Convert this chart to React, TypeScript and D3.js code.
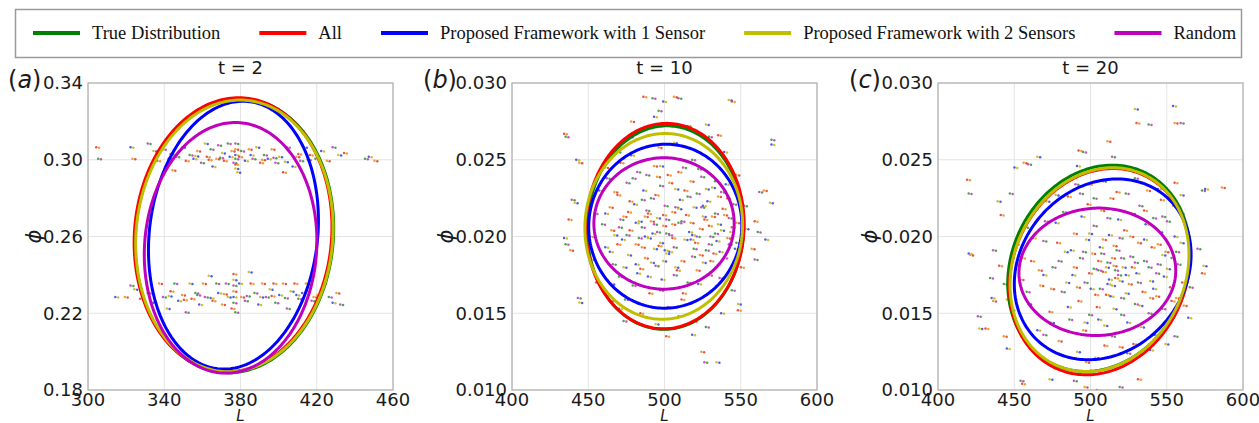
import React, { useEffect, useRef } from 'react';
import * as d3 from 'd3';

const seriesNames = [
  'True Distribution',
  'All',
  'Proposed Framework with 1 Sensor',
  'Proposed Framework with 2 Sensors',
  'Random',
];
const seriesColors = ['#008000', '#ff0000', '#0000ff', '#bfbf00', '#bf00bf'];
const dotColors = ['#e8432a', '#3a9a3a', '#3a4fe0', '#e8962a', '#c040c0', '#c8b820'];

const panelTags = ['a', 'b', 'c'];
const panelTitles = ['t = 2', 't = 10', 't = 20'];
const xDomainA = [300, 460];
const yDomainA = [0.18, 0.34];
const xDomainBC = [400, 600];
const yDomainBC = [0.01, 0.03];
const xTicksA = [300, 340, 380, 420, 460];
const yTicksA = [0.18, 0.22, 0.26, 0.3, 0.34];
const xTicksBC = [400, 450, 500, 550, 600];
const yTicksBC = [0.01, 0.015, 0.02, 0.025, 0.03];

// ellipse fits, one per series: [centre L, centre phi, radius L, radius phi, skew L, skew phi]
const ellipsesT2 = [
  [376.8, 0.2604, 52.0, 0.0714, 3, 0],
  [376.1, 0.2609, 51.8, 0.0714, 3, 0],
  [376.3, 0.2607, 44.3, 0.0698, 5, 0],
  [376.8, 0.2603, 51.7, 0.0708, 3, 0],
  [374.8, 0.2541, 45.2, 0.0653, 2.5, 0],
];
const ellipsesT10 = [
  [500.6, 0.02058, 51.3, 0.00663, 1, 0],
  [500.4, 0.02068, 51.8, 0.00669, 1, 0],
  [500.5, 0.02067, 50.2, 0.00534, 0.5, 0],
  [499.5, 0.02066, 51.7, 0.00605, 1, 0],
  [499.7, 0.02085, 46.0, 0.00428, 0, 0],
];
const ellipsesT20 = [
  [505.5, 0.01793, 59.6, 0.0067, 4.4, 0.0005],
  [506.0, 0.01771, 59.0, 0.0067, 4.4, 0.0005],
  [508.0, 0.01786, 57.6, 0.00588, 6.5, 0.0003],
  [505.9, 0.01784, 58.5, 0.00662, 4.4, 0.0005],
  [504.5, 0.0177, 51.4, 0.00415, 1, 0],
];

// particle samples, "L phi*1000"
const samplesT2 = `305 306.5,306 300.5,323 306.5,324 300.5,332 308.5,335 304.5,337 299.5,340 305.5,343 300.5,345 294.5,
347 301.5,350 306.5,352 299.5,354 302.5,356 300.5,358 304.5,360 298.5,362 308.5,363 301.5,365 305.5,366 296.5,368 300.5,
369 307.5,371 303.5,372 299.5,374 308.5,375 301.5,376 304.5,377 298.5,378 295.5,378 297.5,378 300.5,378 302.5,378 305.5,
378 308.5,379 293.5,380 301.5,381 304.5,383 299.5,385 305.5,387 300.5,389 306.5,391 298.5,393 302.5,395 300.5,397 305.5,
399 298.5,401 301.5,403 293.5,405 306.5,408 296.5,410 301.5,412 299.5,414 306.5,417 302.5,420 300.5,423 304.5,426 299.5,
429 306.5,432 302.5,435 303.5,446 300.5,448 301.5,451 299.5,344 303.0,357 302.0,364 300.0,370 301.0,386 302.5,392 300.0,
398 301.0,404 299.0,411 303.0,416 300.0,
315 228.5,320 228.5,323 234.5,325 232.5,328 227.5,332 230.5,335 225.5,338 235.5,340 228.5,342 222.5,344 231.5,346 235.5,
348 226.5,350 229.5,352 220.5,354 235.5,355 227.5,357 230.5,359 224.5,361 235.5,362 228.5,364 239.5,366 226.5,368 235.5,
369 230.5,371 224.5,373 235.5,374 228.5,376 222.5,377 225.5,377 228.5,377 231.5,377 234.5,377 237.5,377 240.5,378 220.5,
380 235.5,381 228.5,383 226.5,385 241.5,386 235.5,388 230.5,390 224.5,392 235.5,394 228.5,396 232.5,398 235.5,399 225.5,
401 229.5,403 235.5,405 222.5,407 231.5,409 235.5,411 227.5,413 230.5,415 235.5,418 226.5,421 229.5,424 235.5,427 228.5,
429 225.5,431 230.5,433 224.5,343 229.0,351 227.0,358 229.5,365 228.0,372 230.0,384 229.0,391 228.5,397 229.0,404 228.0,
410 229.5,419 228.5`;

const samplesT10 = `435 26.7,436 26.5,443 25.0,445 24.8,440 22.4,442 22.2,438 21.1,436 19.5,435 19.9,439 19.1,444 16.0,445 15.7,
487 29.1,493 29.0,500 28.8,507 29.1,510 29.0,543 28.9,545 28.8,497 28.2,494 27.8,479 27.5,516 27.2,528 27.3,536 26.6,
571 26.3,571 26.0,566 23.0,563 22.9,570 22.2,560 21.0,562 20.3,567 19.8,558 19.2,560 18.5,549 15.6,549 15.2,528 14.1,
519 13.6,525 12.5,527 11.8,535 11.8,502 13.5,474 14.5,471 15.3,465 15.8,456 17.0,453 18.5,452 20.0,455 21.5,458 23.0,
462 24.5,470 25.5,478 26.5,485 27.0,530 26.5,540 25.5,548 24.0,553 22.0,554 20.5,551 18.0,545 16.5,538 15.0,520 14.5,
510 14.8,495 14.3,485 15.0,460 20.8,462 19.3,465 21.9,467 18.2,468 20.1,470 22.7,471 17.4,473 19.8,474 21.3,476 23.5,
477 18.8,478 20.4,480 16.8,481 22.1,482 19.5,483 24.2,484 21.0,485 17.9,486 20.6,487 23.0,488 18.6,489 21.7,490 19.9,
491 16.3,492 22.5,493 20.2,494 24.6,495 18.1,496 21.2,497 19.4,498 23.3,499 17.2,500 20.7,501 22.0,502 18.9,503 24.0,
504 20.1,505 16.6,506 21.6,507 19.3,508 23.1,509 17.8,510 20.9,511 22.4,512 18.4,513 24.5,514 19.8,515 21.4,516 17.0,
517 20.3,518 23.6,519 18.7,520 21.9,521 19.6,522 22.8,523 16.9,524 20.5,525 23.9,526 18.3,527 21.1,528 19.1,529 22.3,
530 17.5,531 20.0,532 23.2,533 18.9,534 21.5,535 19.7,536 22.6,537 17.3,538 20.4,539 21.8,540 18.6,541 23.4,542 19.9,
543 21.2,544 17.9,545 20.6,546 22.1,547 19.2,548 20.9,463 23.8,466 16.9,472 24.8,475 15.9,479 25.3,497 25.8,503 15.4,
507 26.1,512 15.9,519 25.0,488 20.0,492 21.0,496 20.3,498 19.6,500 21.4,502 20.2,504 19.0,506 20.8,508 21.9,494 19.2,
490 21.5,486 22.4,482 20.9,518 20.9,522 20.0,526 21.3,530 20.7,534 20.2,465 19.0,468 22.9,471 20.6,474 18.0,477 21.6,
480 23.8,483 17.6,486 19.3,489 24.0,492 18.3,495 22.7,498 16.5,501 19.1,504 23.5,507 17.5,510 21.8,513 16.3,516 22.6,
519 20.1,522 17.8,525 21.9,528 23.1,531 18.4,534 23.6,537 19.0,540 21.4,543 19.5,546 18.1,478 22.3,484 19.9,490 17.4,
496 23.9,502 21.1,508 18.0,514 23.0,520 19.2,526 22.0,532 21.3,538 22.9,544 20.3,470 19.5,476 20.1,482 18.2,488 21.3,
494 20.8,500 18.4,506 19.9,512 21.0,518 19.8,524 18.8,530 19.5,536 20.8,542 22.5,548 19.6,462 21.5,466 20.4,472 21.1,
498 24.6,510 24.2,523 24.4`;

const samplesT20 = `420 23.7,421 22.8,421 18.9,422 18.8,427 14.8,428 14.0,432 14.0,435 17.3,436 16.0,437 15.8,437 19.1,440 22.3,
442 21.4,448 22.8,451 24.5,457 24.8,460 24.7,466 25.2,493 25.6,496 25.5,492 24.6,512 26.2,515 25.2,530 28.3,531 27.4,
539 27.3,555 28.5,556 27.4,560 27.4,560 22.7,556 23.5,574 23.0,576 23.1,587 23.2,571 19.2,575 18.1,574 17.6,566 16.7,
565 14.7,562 15.5,556 13.5,550 13.0,532 10.7,520 10.2,505 10.0,497 10.2,490 10.6,474 10.7,456 10.4,455 10.6,446 12.7,
444 13.5,449 15.2,446 15.9,441 18.1,444 16.9,452 19.5,455 17.2,458 20.6,460 15.6,462 18.4,464 21.8,466 13.9,468 16.8,
470 19.7,472 22.3,474 15.1,476 18.0,478 20.9,480 13.2,482 16.4,484 19.0,486 22.6,487 14.6,489 17.5,490 20.2,491 23.4,
492 12.5,493 15.8,494 18.6,495 21.3,496 13.9,497 17.0,498 19.8,499 22.1,500 14.9,501 16.6,502 18.9,503 20.7,504 12.1,
505 15.4,506 17.8,507 19.3,508 21.7,509 23.6,510 14.2,511 16.2,512 18.3,513 20.1,514 22.5,515 13.5,516 15.3,517 17.3,
518 19.1,519 21.1,520 12.8,521 16.0,522 18.0,523 20.4,524 22.8,525 14.4,526 16.9,527 18.7,528 21.5,529 13.0,530 15.6,
531 17.6,532 19.6,533 22.0,534 14.1,535 16.4,536 18.4,537 20.8,538 23.0,539 15.0,540 17.1,541 19.3,542 21.2,543 13.6,
544 16.1,545 18.2,546 20.3,547 22.4,548 15.3,549 17.4,550 19.0,551 21.0,552 14.5,553 16.7,554 18.6,556 20.0,557 16.0,
558 18.2,560 19.6,561 17.0,517 17.8,513 17.2,515 18.6,519 17.5,511 18.0,509 17.7,507 16.6,514 16.1,516 19.4,521 18.6,
520 17.1,506 18.4,503 17.9,470 17.5,475 16.6,480 18.4,485 17.0,456 18.6,459 16.4,463 19.9,467 17.8,471 21.0,475 14.4,
479 19.6,483 21.6,486 15.4,490 18.0,494 22.8,497 14.4,500 17.6,503 22.5,506 14.6,509 19.8,512 21.2,515 16.8,518 22.9,
521 14.9,524 17.5,527 20.0,530 18.3,533 15.5,536 21.7,539 18.0,542 16.6,545 19.5,548 21.3,551 17.9,554 15.8,557 19.0,
488 19.1,492 16.7,496 19.0,500 20.2,504 16.2,508 18.9,512 16.9,516 18.1,520 19.9,524 16.3,528 18.0,532 17.0,536 19.8,
540 16.0,544 17.6,548 18.8,510 12.9,525 12.4,540 12.6,498 11.8,470 13.6,478 22.7,500 23.4,530 23.8,545 23.1,555 22.0,
560 21.5`;

const parseSamples = (s: string) =>
  s.split(',').map(p => p.trim().split(/\s+/).map(Number)).map(([l, f]) => [l, f / 1000]);

const panels = [
  { left: 88, xDomain: xDomainA, yDomain: yDomainA, xTicks: xTicksA, yTicks: yTicksA, yFmt: '.2f', ellipses: ellipsesT2, samples: samplesT2, phiX: 54 },
  { left: 512, xDomain: xDomainBC, yDomain: yDomainBC, xTicks: xTicksBC, yTicks: yTicksBC, yFmt: '.3f', ellipses: ellipsesT10, samples: samplesT10, phiX: 66 },
  { left: 938, xDomain: xDomainBC, yDomain: yDomainBC, xTicks: xTicksBC, yTicks: yTicksBC, yFmt: '.3f', ellipses: ellipsesT20, samples: samplesT20, phiX: 68 },
];

const App = () => {
  const svgRef = useRef<SVGSVGElement>(null);

  useEffect(() => {
    document.body.style.margin = '0';
    const width = 1259;
    const height = 423;
    const top = 83;
    const plotW = 305;
    const plotH = 307;
    const sans = 'DejaVu Sans, sans-serif';

    const svg = d3.select(svgRef.current).attr('width', width).attr('height', height);
    svg.selectAll('*').remove();

    // legend
    const legend = svg.append('g');
    legend.append('rect')
      .attr('x', 15.5).attr('y', 9.5).attr('width', 1226).attr('height', 48)
      .attr('fill', 'white').attr('stroke', '#9a9a9a').attr('stroke-width', 1.5);
    let lx = 33;
    seriesNames.forEach((name, i) => {
      legend.append('line')
        .attr('x1', lx).attr('x2', lx + 47).attr('y1', 33).attr('y2', 33)
        .attr('stroke', seriesColors[i]).attr('stroke-width', 4);
      const t = legend.append('text')
        .attr('x', lx + 59).attr('y', 39)
        .attr('font-family', 'Liberation Serif, Times New Roman, serif')
        .attr('font-size', 18.5).attr('fill', '#111')
        .text(name);
      const w = (t.node() as SVGTextElement).getComputedTextLength();
      lx += 59 + w + 39;
    });

    panels.forEach((p, pi) => {
      const x = d3.scaleLinear().domain(p.xDomain).range([p.left, p.left + plotW]);
      const y = d3.scaleLinear().domain(p.yDomain).range([top + plotH, top]);
      const g = svg.append('g');
      const clipId = `clip-${pi}`;
      g.append('clipPath').attr('id', clipId).append('rect')
        .attr('x', p.left).attr('y', top).attr('width', plotW).attr('height', plotH);

      // grid
      g.selectAll('.gx').data(p.xTicks).enter().append('line')
        .attr('x1', d => x(d)).attr('x2', d => x(d)).attr('y1', top).attr('y2', top + plotH)
        .attr('stroke', '#e4e4e4').attr('stroke-width', 1);
      g.selectAll('.gy').data(p.yTicks).enter().append('line')
        .attr('x1', p.left).attr('x2', p.left + plotW).attr('y1', d => y(d)).attr('y2', d => y(d))
        .attr('stroke', '#e4e4e4').attr('stroke-width', 1);

      const plot = g.append('g').attr('clip-path', `url(#${clipId})`);

      // particles
      const pts = parseSamples(p.samples);
      pts.forEach(([l, f], i) => {
        plot.append('circle').attr('cx', x(l) - 1.3).attr('cy', y(f)).attr('r', 1.25)
          .attr('fill', dotColors[i % 6]).attr('opacity', 0.9);
        plot.append('circle').attr('cx', x(l) + 1.5).attr('cy', y(f) + 0.5).attr('r', 1.25)
          .attr('fill', dotColors[(i + 3) % 6]).attr('opacity', 0.9);
      });

      // ellipses
      const angles = d3.range(0, 241).map(i => (i / 240) * Math.PI * 2);
      p.ellipses.forEach((e, si) => {
        const [cx, cy, rx, ry, sx, sy] = e;
        const line = d3.line<number>()
          .x(t => x(cx + rx * Math.cos(t) + sx * Math.sin(t)))
          .y(t => y(cy + ry * Math.sin(t) + sy * Math.cos(t)))
          .curve(d3.curveLinear);
        plot.append('path').datum(angles).attr('d', line)
          .attr('fill', 'none').attr('stroke', seriesColors[si]).attr('stroke-width', 3);
      });

      // frame
      g.append('rect')
        .attr('x', p.left).attr('y', top).attr('width', plotW).attr('height', plotH)
        .attr('fill', 'none').attr('stroke', '#b4b4b4').attr('stroke-width', 1.3);

      // tick labels
      const fmt = d3.format(p.yFmt);
      g.selectAll('.ty').data(p.yTicks).enter().append('text')
        .attr('x', p.left - 5).attr('y', d => y(d)).attr('dy', '0.36em')
        .attr('text-anchor', 'end').attr('font-family', sans).attr('font-size', 18).attr('fill', '#1a1a1a')
        .text(d => fmt(d));
      g.selectAll('.tx').data(p.xTicks).enter().append('text')
        .attr('x', d => x(d)).attr('y', top + plotH + 16)
        .attr('text-anchor', 'middle').attr('font-family', sans).attr('font-size', 18).attr('fill', '#1a1a1a')
        .text(d => String(d));

      // title, tag, axis labels
      g.append('text')
        .attr('x', p.left + plotW / 2).attr('y', 74)
        .attr('text-anchor', 'middle').attr('font-family', sans).attr('font-size', 18).attr('fill', '#1a1a1a')
        .text(panelTitles[pi]);
      const tag = g.append('text')
        .attr('x', p.left - (pi === 0 ? 80 : 89)).attr('y', 88)
        .attr('font-family', sans).attr('font-size', 24).attr('fill', '#1a1a1a');
      tag.append('tspan').text('(');
      tag.append('tspan').attr('font-style', 'italic').text(panelTags[pi]);
      tag.append('tspan').text(')');
      g.append('text')
        .attr('transform', `translate(${p.left - p.phiX},${top + plotH / 2}) rotate(-90)`)
        .attr('text-anchor', 'middle').attr('dy', '0.35em')
        .attr('font-family', sans).attr('font-style', 'italic').attr('font-size', 21).attr('fill', '#1a1a1a')
        .text('ϕ');
      g.append('text')
        .attr('x', p.left + plotW / 2).attr('y', 421)
        .attr('text-anchor', 'middle').attr('font-family', sans).attr('font-style', 'italic')
        .attr('font-size', 15).attr('fill', '#1a1a1a')
        .text('L');
    });
  }, []);

  return <svg ref={svgRef}></svg>;
};

export default App;
